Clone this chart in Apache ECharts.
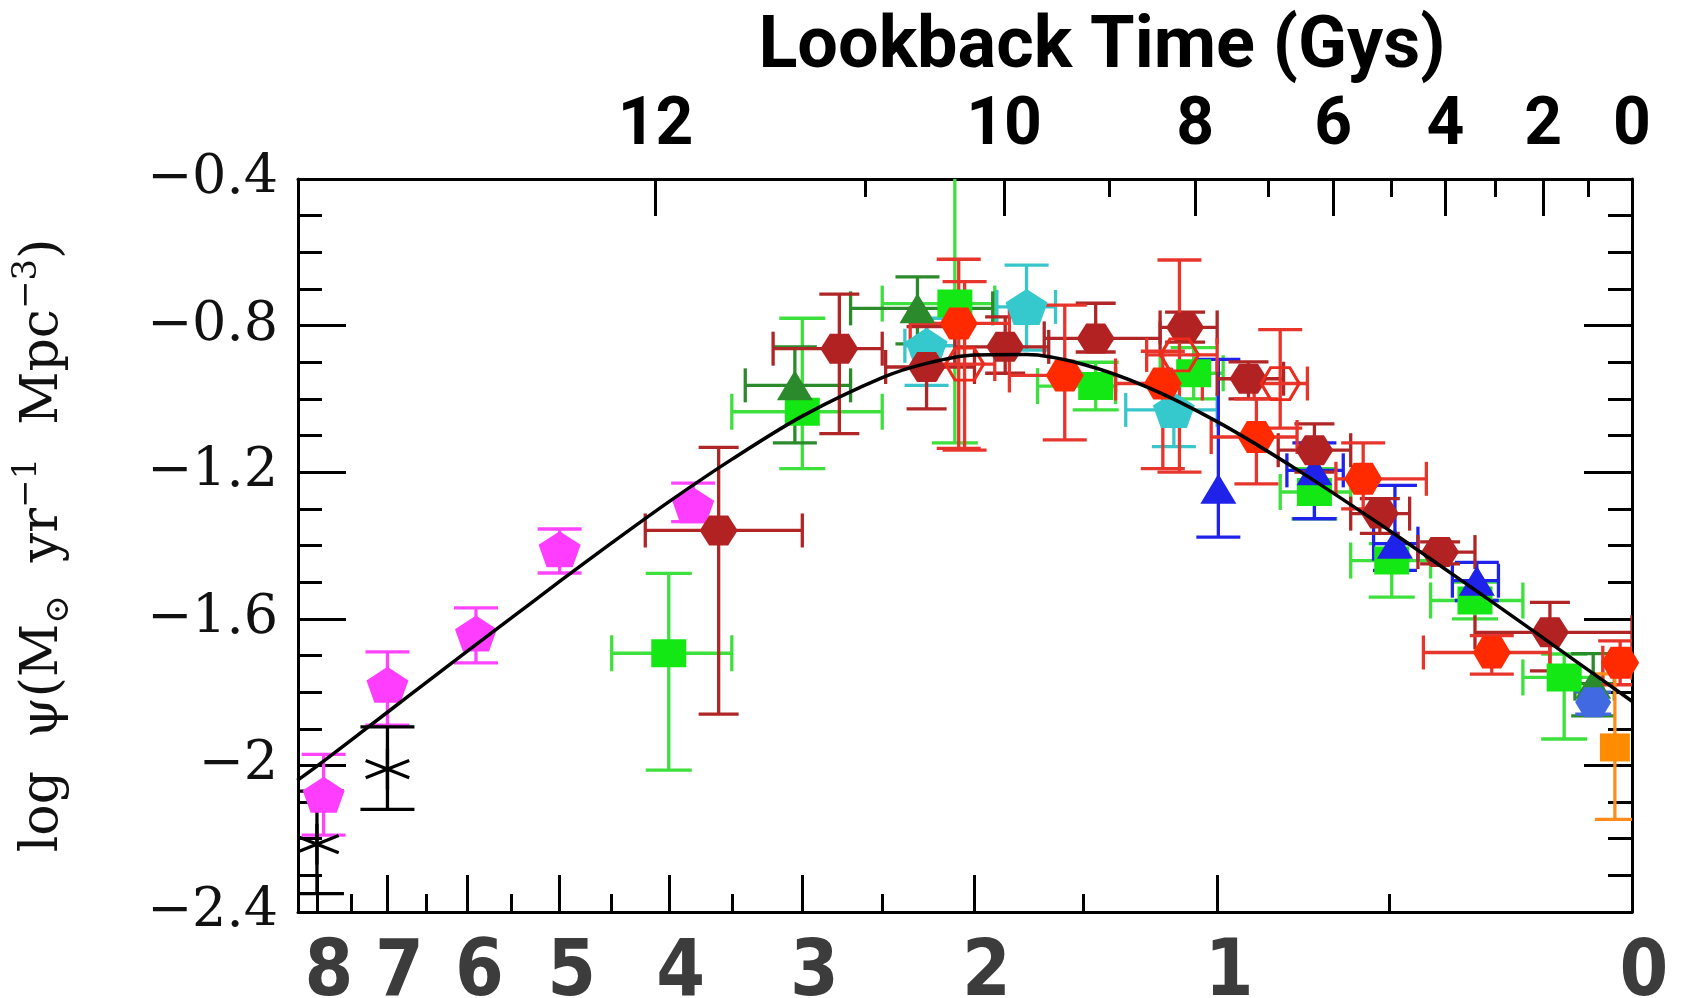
<!DOCTYPE html>
<html><head><meta charset="utf-8">
<script src="https://cdn.jsdelivr.net/npm/echarts@6/dist/echarts.min.js"></script>
<style>html,body{margin:0;padding:0;background:#fff}#c{width:1681px;height:998px}</style>
</head><body><div id="c"></div>
<script>
// ---------------- data ----------------
// tick labels
const redshiftTicks = [0, 1, 2, 3, 4, 5, 6, 7, 8];
const redshiftMinorTicks = [0.5, 1.5, 2.5, 3.5, 4.5, 5.5, 6.5, 7.5];
const lookbackTicks = [0, 2, 4, 6, 8, 10, 12];
const lookbackMinorTicks = [1, 3, 5, 7, 9, 11];

// best-fit curve: redshift, log psi
const curveZ      = [0, 0.1, 0.25, 0.4, 0.5, 0.75, 1, 1.25, 1.5, 1.75, 2, 2.25, 2.5, 3, 3.5, 4, 4.5, 5, 5.5, 6, 6.5, 7, 7.5, 8, 8.3];
const curveLogPsi = [-1.825, -1.714, -1.566, -1.437, -1.359, -1.193, -1.062, -0.967, -0.906, -0.879, -0.880, -0.903, -0.942, -1.047, -1.165, -1.281, -1.393, -1.498, -1.597, -1.688, -1.774, -1.855, -1.931, -2.002, -2.041];

// measurements: [z, log psi, zMin, zMax, logMin, logMax]
const uvHighZ = [
  [7.9, -2.08, null, null, -2.19, -1.97],
  [7.0, -1.78, null, null, -1.89, -1.69],
  [5.9, -1.64, null, null, -1.72, -1.57],
  [5.0, -1.41, null, null, -1.475, -1.355],
  [3.8, -1.29, null, null, -1.335, -1.23]
];
const asterisks = [
  [8.0, -2.215, null, null, -2.35, -2.07],
  [7.0, -2.01, null, null, -2.12, -1.895]
];
const lightGreen = [
  [4.0, -1.694, 3.5, 4.5, -2.013, -1.476],
  [3.0, -1.035, 2.5, 3.5, -1.19, -0.78],
  [2.1, -0.74, 1.9, 2.5, -1.12, -0.2],
  [1.45, -0.965, 1.37, 1.70, -1.03, -0.90],
  [1.08, -0.93, 0.98, 1.2, -1.0, -0.86],
  [0.70, -1.254, 0.60, 0.80, -1.327, -1.19],
  [0.494, -1.441, 0.40, 0.60, -1.541, -1.395],
  [0.30, -1.55, 0.20, 0.40, -1.60, -1.50],
  [0.12, -1.76, 0.05, 0.20, -1.928, -1.696]
];
const darkGreen = [
  [3.05, -0.963, 2.69, 3.40, -1.12, -0.858],
  [2.30, -0.753, 1.91, 2.69, -0.85, -0.667],
  [0.067, -1.777, 0.03, 0.10, -1.865, -1.695]
];
const cyan = [
  [2.25, -0.855, 2.1, 2.37, -0.963, -0.78],
  [1.75, -0.749, 1.62, 1.89, -0.867, -0.635],
  [1.15, -1.03, 1.0, 1.33, -1.13, -0.95]
];
const blue = [
  [0.996, -1.245, null, null, -1.377, -0.892],
  [0.70, -1.195, 0.62, 0.78, -1.327, -1.12],
  [0.486, -1.395, 0.43, 0.54, -1.468, -1.236],
  [0.296, -1.496, 0.25, 0.35, -1.55, -1.446]
];
const darkRed = [
  [3.6, -1.359, 3.0, 4.2, -1.86, -1.132],
  [2.76, -0.863, 2.5, 3.2, -1.095, -0.714],
  [2.25, -0.913, 2.0, 2.48, -1.027, -0.803],
  [1.85, -0.858, 1.65, 2.1, -0.93, -0.776],
  [1.45, -0.835, 1.20, 1.67, -0.872, -0.739],
  [1.11, -0.805, 1.0, 1.2, -0.845, -0.763],
  [0.898, -0.945, 0.79, 1.0, -1.0, -0.899],
  [0.70, -1.14, 0.60, 0.806, -1.2, -1.068],
  [0.524, -1.313, 0.45, 0.6, -1.367, -1.272],
  [0.378, -1.418, 0.30, 0.43, -1.45, -1.39],
  [0.147, -1.637, 0.0, 0.30, -1.742, -1.555]
];
const red = [
  [2.08, -0.794, 1.83, 2.34, -1.135, -0.619],
  [1.58, -0.936, 1.37, 1.83, -1.112, -0.744],
  [1.19, -0.958, 1.05, 1.37, -1.19, -0.87],
  [0.873, -1.104, 0.75, 1.02, -1.232, -1.0],
  [0.567, -1.218, 0.41, 0.64, -1.30, -1.12],
  [0.264, -1.692, 0.147, 0.417, -1.751, -1.646],
  [0.02, -1.72, 0.0, 0.05, -1.78, -1.66]
];
const redOpen = [
  [2.05, -0.905, 1.9, 2.2, -1.14, -0.68],
  [1.13, -0.88, 1.0, 1.25, -1.2, -0.621],
  [0.80, -0.958, 0.72, 0.88, -1.08, -0.811]
];
const royalBlue = [[0.067, -1.828, null, null, -1.86, -1.80]];
const orange = [[0.029, -1.951, null, null, -2.147, -1.75]];

// ---------------- scales ----------------
const X_MAX = 0.968;               // log10(1+z) at the left edge
const toX = z => Math.log10(1 + z);
const H0 = 70, OM = 0.3, OL = 0.7, T_H = 977.8 / H0;
function lookbackGyr(z) {
  const n = 400, h = z / n; let s = 0;
  for (let i = 0; i <= n; i++) {
    const zz = i * h;
    const f = 1 / ((1 + zz) * Math.sqrt(OM * Math.pow(1 + zz, 3) + OL));
    s += f * ((i === 0 || i === n) ? 1 : (i % 2 ? 4 : 2));
  }
  return T_H * s * h / 3;
}
function zAtLookback(t) {
  if (t <= 0) return 0;
  let lo = 0, hi = 30;
  for (let k = 0; k < 60; k++) { const m = (lo + hi) / 2; if (lookbackGyr(m) < t) lo = m; else hi = m; }
  return (lo + hi) / 2;
}
const lbPos = lookbackTicks.map(t => toX(zAtLookback(t)));
const lbMinorPos = lookbackMinorTicks.map(t => toX(zAtLookback(t)));
const zPos = redshiftTicks.map(toX);
const zMinorPos = redshiftMinorTicks.map(toX);
function labelFor(v, pos, labels) {
  let best = 0, d = Infinity;
  pos.forEach((p, i) => { if (Math.abs(p - v) < d) { d = Math.abs(p - v); best = i; } });
  return String(labels[best]);
}

// ---------------- series builders ----------------
const HEX = 'path://M0,50 L25,0 L75,0 L100,50 L75,100 L25,100 Z';
const PENT = 'path://M50,0 L100,38 L81,100 L19,100 L0,38 Z';
const LW = 3.3;

function errData(rows) {
  return rows.map(r => [toX(r[0]), r[1],
    r[2] == null ? toX(r[0]) : toX(r[2]), r[3] == null ? toX(r[0]) : toX(r[3]), r[4], r[5]]);
}
function errSeries(rows, color, capV, capH, star) {
  return {
    type: 'custom', xAxisIndex: 0, yAxisIndex: 0, silent: true,
    data: errData(rows), encode: { x: 0, y: 1 },
    renderItem: function (params, api) {
      const cs = params.coordSys;
      const c = api.coord([api.value(0), api.value(1)]);
      const lo = api.coord([api.value(2), api.value(1)]);
      const hi = api.coord([api.value(3), api.value(1)]);
      const yl = api.coord([api.value(0), api.value(4)]);
      const yh = api.coord([api.value(0), api.value(5)]);
      const st = { stroke: color, lineWidth: LW };
      const L = (x1, y1, x2, y2) => ({ type: 'line', shape: { x1, y1, x2, y2 }, style: st });
      const ch = [];
      ch.push(L(c[0], yl[1], c[0], yh[1]));
      ch.push(L(c[0] - capV, yl[1], c[0] + capV, yl[1]));
      ch.push(L(c[0] - capV, yh[1], c[0] + capV, yh[1]));
      if (Math.abs(lo[0] - hi[0]) > 1) {
        ch.push(L(lo[0], c[1], hi[0], c[1]));
        ch.push(L(lo[0], c[1] - capH, lo[0], c[1] + capH));
        ch.push(L(hi[0], c[1] - capH, hi[0], c[1] + capH));
      }
      if (star) {
        const r = 24;
        [90, 25, 155].forEach(a => {
          const rad = a * Math.PI / 180, dx = r * Math.cos(rad), dy = r * Math.sin(rad) * 0.85;
          ch.push(L(c[0] - dx, c[1] + dy, c[0] + dx, c[1] - dy));
        });
      }
      return { type: 'group', children: ch,
        clipPath: { type: 'rect', shape: { x: cs.x, y: cs.y, width: cs.width, height: cs.height } } };
    }
  };
}
function markSeries(rows, color, symbol, size, open) {
  return {
    type: 'scatter', xAxisIndex: 0, yAxisIndex: 0, silent: true, clip: true,
    symbol: symbol, symbolSize: size,
    data: rows.map(r => [toX(r[0]), r[1]]),
    itemStyle: open ? { color: 'rgba(0,0,0,0)', borderColor: color, borderWidth: 3, opacity: 1 }
                    : { color: color, opacity: 1, borderWidth: 0 },
    emphasis: { disabled: true }
  };
}

const series = [
  errSeries(lightGreen, '#3de03d', 23, 18), markSeries(lightGreen, '#14e814', 'rect', [35, 28]),
  errSeries(darkGreen, '#2b8a2b', 22, 17), markSeries(darkGreen, '#2b8a2b', 'triangle', [36, 30]),
  errSeries(cyan, '#38c6cc', 22, 17), markSeries(cyan, '#35c8cc', PENT, [42, 36]),
  errSeries(blue, '#1f22e8', 22, 17), markSeries(blue, '#1f22e8', 'triangle', [36, 30]),
  errSeries(uvHighZ, '#ff44ff', 22, 17), markSeries(uvHighZ, '#ff3dff', PENT, [42, 36]),
  errSeries(asterisks, '#000000', 27, 17, true),
  errSeries(darkRed, '#b02525', 20, 17), markSeries(darkRed, '#b22222', HEX, [38, 30]),
  errSeries(red, '#e8352c', 22, 17), markSeries(red, '#ff2a00', HEX, [38, 32]),
  errSeries(redOpen, '#e8352c', 22, 17), markSeries(redOpen, '#ee2a1a', HEX, [38, 32], true),
  errSeries(orange, '#ff8c1a', 20, 17), markSeries(orange, '#ff8c00', 'rect', [30, 28]),
  errSeries(royalBlue, '#4169e1', 18, 17), markSeries(royalBlue, '#4169e1', HEX, [36, 30]),
  {
    type: 'line', xAxisIndex: 0, yAxisIndex: 0, silent: true, smooth: 0.3,
    showSymbol: false, symbol: 'none',
    data: curveZ.map((z, i) => [toX(z), curveLogPsi[i]]),
    lineStyle: { color: '#000', width: 3.5 }
  }
];

// ---------------- axes ----------------
const FRAME = { color: '#000', width: 3 };
function xAxisDef(pos, ticks, len, showLine, label) {
  return {
    type: 'value', position: pos, offset: 0, min: 0, max: X_MAX, inverse: true,
    splitLine: { show: false },
    axisLine: { show: showLine, onZero: false, lineStyle: FRAME },
    axisTick: { show: true, inside: true, length: len, lineStyle: FRAME, customValues: ticks },
    axisLabel: label || { show: false },
    minorTick: { show: false }
  };
}
const yCommon = {
  type: 'value', min: -2.4, max: -0.4, interval: 0.4,
  splitLine: { show: false },
  axisLine: { show: true, onZero: false, lineStyle: FRAME },
  axisTick: { show: true, inside: true, length: 48, lineStyle: FRAME },
  minorTick: { show: true, splitNumber: 4, length: 24, lineStyle: FRAME }
};
const yFmt = v => { const r = Math.round(v * 10) / 10; return (r < 0 ? '\u2212' : '') + String(Math.abs(r)); };

const option = {
  animation: false,
  backgroundColor: '#fff',
  grid: { left: 298, right: 49, top: 179, bottom: 86, containLabel: false, outerBoundsMode: 'none' },
  graphic: [{
    type: 'text', x: 1102, y: 13, silent: true,
    style: { text: 'Lookback Time (Gys)', fill: '#000', font: 'bold 72px Roboto',
      align: 'center', verticalAlign: 'top', textAlign: 'center', textVerticalAlign: 'top' }
  }],
  xAxis: [
    xAxisDef('bottom', zPos, 37, true, {
      show: true, customValues: zPos, margin: 24, padding: [0, 0, 0, 24],
      formatter: v => labelFor(v, zPos, redshiftTicks),
      fontSize: 78, fontWeight: 'bold', color: '#3c3c3c',
      fontFamily: "'Liberation Sans Narrow','DejaVu Sans Condensed',sans-serif"
    }),
    xAxisDef('bottom', zMinorPos, 18, false),
    xAxisDef('top', lbPos, 37, true, {
      show: true, customValues: lbPos, margin: 19,
      formatter: v => labelFor(v, lbPos, lookbackTicks),
      fontSize: 66, fontWeight: 'bold', color: '#000', fontFamily: 'Roboto'
    }),
    xAxisDef('top', lbMinorPos, 18, false)
  ],
  yAxis: [
    Object.assign({}, yCommon, {
      position: 'left',
      axisLabel: { show: true, margin: 20, formatter: yFmt, fontSize: 54, color: '#111',
        fontFamily: 'DejaVu Serif' },
      name: '{n|log  \u03C8(M}{s|\u2299}{n|  yr}{p|\u22121}{n|  Mpc}{p|\u22123}{n|)}',
      nameLocation: 'middle', nameRotate: 90, nameGap: 222,
      nameTextStyle: {
        color: '#111', fontFamily: 'DejaVu Serif', fontSize: 52,
        rich: {
          n: { fontFamily: 'DejaVu Serif', fontSize: 52, lineHeight: 66, color: '#111', verticalAlign: 'middle' },
          s: { fontFamily: 'DejaVu Serif', fontSize: 34, lineHeight: 66, color: '#111', verticalAlign: 'bottom' },
          p: { fontFamily: 'DejaVu Serif', fontSize: 34, lineHeight: 66, color: '#111', verticalAlign: 'top' }
        }
      }
    }),
    Object.assign({}, yCommon, { position: 'right', axisLabel: { show: false } })
  ],
  series: series
};
const chart = echarts.init(document.getElementById('c'), null, { renderer: 'canvas' });
chart.setOption(option);
</script></body></html>
